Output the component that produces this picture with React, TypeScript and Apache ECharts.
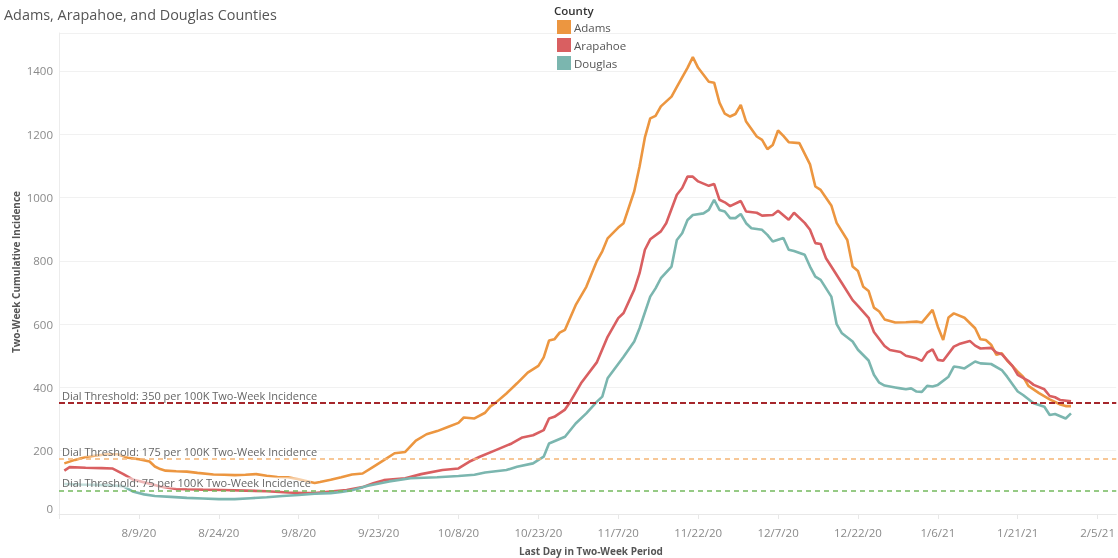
import React, { useEffect, useRef } from "react";
import * as echarts from "echarts";

// x values are days counted from 8/9/20
const DAY0 = Date.UTC(2020, 7, 9);

const counties = ["Adams", "Arapahoe", "Douglas"];
const colors = ["#EC9640", "#D95F61", "#7BB6AF"];

const adams: [number, number][] = [
  [-14, 160], [-12, 171], [-10, 180], [-8, 185], [-6, 189], [-4, 189], [-2, 178], [0, 173], [2, 166], [3, 150], [4, 142], [5, 137],
  [7, 135], [9, 134], [11, 130], [14, 125], [16, 124], [18, 123], [20, 124], [22, 126], [24, 121], [26, 117], [28, 116], [30, 110],
  [32, 102], [33, 98], [34, 101], [36, 108], [38, 116], [40, 125], [42, 128], [44, 149], [46, 170], [48, 192], [50, 196], [52, 232],
  [54, 252], [56, 262], [58, 275], [60, 288], [61, 305], [63, 302], [65, 320], [66, 340], [67, 352], [69, 381], [71, 413], [73, 447],
  [75, 468], [76, 495], [77, 548], [78, 552], [79, 573], [80, 582], [82, 660], [84, 718], [86, 800], [87, 830], [88, 871], [90, 905],
  [91, 919], [93, 1020], [94, 1098], [95, 1190], [96, 1250], [97, 1258], [98, 1288], [100, 1319], [101, 1350], [103, 1410], [104, 1444],
  [105, 1410], [107, 1366], [108, 1363], [109, 1300], [110, 1265], [111, 1256], [112, 1264], [113, 1293], [114, 1240], [116, 1193],
  [117, 1182], [118, 1153], [119, 1166], [120, 1212], [121, 1195], [122, 1175], [124, 1172], [126, 1105], [127, 1035], [128, 1024],
  [130, 975], [131, 920], [133, 866], [134, 782], [135, 768], [136, 718], [137, 705], [138, 652], [139, 640], [140, 615], [142, 605],
  [144, 606], [146, 608], [147, 605], [149, 645], [150, 592], [151, 550], [152, 621], [153, 634], [155, 620], [157, 587], [158, 552],
  [159, 550], [160, 535], [161, 503], [162, 508], [163, 485], [165, 450], [166, 434], [167, 405], [169, 382], [171, 362], [173, 346],
  [174, 341], [175, 341],
];

const arapahoe: [number, number][] = [
  [-14, 137], [-13, 148], [-10, 146], [-7, 145], [-5, 144], [-3, 127], [-1, 108], [2, 96], [4, 87], [7, 79], [9, 78], [12, 77],
  [16, 76], [20, 74], [24, 72], [28, 68], [31, 66], [33, 66], [36, 71], [39, 76], [42, 85], [44, 97], [46, 107], [50, 113], [53, 126],
  [57, 139], [60, 144], [62, 165], [64, 181], [67, 202], [70, 223], [72, 242], [74, 249], [76, 265], [77, 302], [78, 307], [80, 330],
  [81, 355], [83, 413], [86, 480], [88, 560], [90, 619], [91, 635], [93, 709], [94, 761], [95, 835], [96, 868], [98, 893], [99, 919],
  [101, 1009], [102, 1030], [103, 1066], [104, 1066], [105, 1051], [107, 1037], [108, 1043], [109, 993], [110, 985], [111, 973],
  [113, 989], [114, 956], [116, 952], [117, 943], [119, 945], [120, 958], [122, 930], [123, 952], [125, 920], [126, 898], [127, 856],
  [128, 853], [129, 808], [130, 782], [132, 729], [134, 676], [135, 658], [137, 620], [138, 575], [140, 531], [141, 518], [143, 512],
  [144, 500], [146, 492], [147, 484], [148, 510], [149, 520], [150, 487], [151, 484], [153, 529], [154, 537], [156, 547], [157, 532],
  [158, 523], [160, 525], [161, 510], [162, 505], [164, 468], [165, 440], [167, 421], [168, 408], [170, 394], [171, 373], [172, 369],
  [173, 360], [175, 356],
];

const douglas: [number, number][] = [
  [-14, 95], [-11, 93], [-8, 92], [-5, 90], [-3, 88], [-1, 70], [1, 62], [3, 57], [6, 54], [9, 51], [12, 49], [15, 47], [18, 47],
  [21, 50], [24, 53], [27, 57], [30, 60], [33, 64], [36, 66], [38, 70], [40, 75], [43, 89], [47, 103], [51, 113], [56, 116], [60, 120],
  [63, 124], [65, 131], [69, 139], [71, 149], [74, 160], [76, 181], [77, 223], [80, 244], [82, 286], [84, 318], [86, 355], [87, 371],
  [88, 429], [91, 497], [93, 545], [94, 587], [96, 687], [97, 713], [98, 745], [100, 782], [101, 866], [102, 887], [103, 929],
  [104, 945], [106, 950], [107, 961], [108, 993], [109, 961], [110, 956], [111, 935], [112, 935], [113, 948], [114, 919], [115, 903],
  [117, 898], [118, 882], [119, 861], [121, 872], [122, 835], [123, 831], [125, 819], [126, 782], [127, 750], [128, 740], [130, 687],
  [131, 600], [132, 571], [134, 545], [135, 519], [137, 485], [138, 440], [139, 415], [140, 406], [142, 400], [143, 397], [144, 394],
  [145, 397], [146, 387], [147, 386], [148, 405], [149, 403], [150, 408], [152, 434], [153, 466], [154, 464], [155, 460], [157, 482],
  [158, 476], [160, 474], [162, 455], [163, 434], [165, 387], [166, 376], [168, 350], [170, 339], [171, 313], [172, 316], [174, 302],
  [175, 318],
];

const thresholds = [350, 175, 75];
const thresholdLabels = [
  "Dial Threshold: 350 per 100K Two-Week Incidence",
  "Dial Threshold: 175 per 100K Two-Week Incidence",
  "Dial Threshold: 75 per 100K Two-Week Incidence",
];
const thresholdColors = ["#A5262B", "#F5B575", "#74B95E"];

const FONT = "'Open Sans', 'Noto Sans', sans-serif";

function dayLabel(d: number): string {
  if (d < 0) return "";
  const dt = new Date(DAY0 + d * 86400000);
  return `${dt.getUTCMonth() + 1}/${dt.getUTCDate()}/${String(dt.getUTCFullYear()).slice(2)}`;
}

export default function App() {
  const ref = useRef<HTMLDivElement>(null);
  useEffect(() => {
    if (!ref.current) return;
    const chart = echarts.init(ref.current, undefined, { renderer: "svg" });
    const seriesData = [adams, arapahoe, douglas];
    chart.setOption({
      animation: false,
      grid: { left: 59, right: 0, top: 33, bottom: 44, containLabel: false },
      legend: {
        data: counties,
        orient: "vertical",
        left: 557,
        top: 20,
        padding: 0,
        icon: "rect",
        itemWidth: 14,
        itemHeight: 14,
        itemGap: 4,
        textStyle: { color: "#555", fontSize: 11.5, fontFamily: FONT, padding: [0, 0, 0, -2] },
        selectedMode: false,
      },
      xAxis: {
        type: "value",
        min: -15,
        max: 183.5,
        interval: 15,
        axisLine: { show: true, onZero: false, lineStyle: { color: "#e8e8e8" } },
        axisTick: { show: true, length: 5, lineStyle: { color: "#e8e8e8" } },
        splitLine: { show: false },
        axisLabel: {
          formatter: (v: number) => dayLabel(v),
          color: "#8a8a8a",
          fontSize: 11.5,
          fontFamily: FONT,
          margin: 12,
          showMaxLabel: false,
        },
      },
      yAxis: {
        type: "value",
        min: 0,
        max: 1520,
        interval: 200,
        axisLine: { show: true, onZero: false, lineStyle: { color: "#ececec" } },
        axisTick: { show: false },
        splitLine: { show: true, lineStyle: { color: "#f1f1f1", width: 1 } },
        axisLabel: {
          formatter: (v: number) => (v === 0 ? "0\n" : String(v)),
          color: "#8a8a8a",
          fontSize: 11.5,
          fontFamily: FONT,
          margin: 6,
          showMaxLabel: false,
        },
      },
      series: [
        ...counties.map((name, i) => ({
          name,
          type: "line",
          data: seriesData[i],
          showSymbol: false,
          symbol: "none",
          lineStyle: { color: colors[i], width: 2.6 },
          itemStyle: { color: colors[i] },
          z: 2 + i,
        })),
        {
          name: "thresholds",
          type: "line",
          data: [],
          z: 10,
          silent: true,
          markLine: {
            symbol: "none",
            silent: true,
            animation: false,
            label: {
              show: true,
              position: "insideStartTop",
              color: "#666",
              fontSize: 11,
              fontFamily: FONT,
              backgroundColor: "rgba(255,255,255,0.55)",
              distance: [3, 2],
            },
            data: thresholds.map((t, i) => ({
              yAxis: t,
              lineStyle: {
                color: thresholdColors[i],
                type: i === 0 ? [6, 3] : [5, 4],
                width: i === 0 ? 2 : 1.5,
              },
              label: { formatter: thresholdLabels[i] },
            })),
          },
        },
      ],
      graphic: [
        {
          type: "text",
          left: 4,
          top: 7,
          style: {
            text: "Adams, Arapahoe, and Douglas Counties",
            fill: "#555",
            font: `14.4px ${FONT}`,
          },
        },
        {
          type: "text",
          x: 554,
          y: 10,
          style: {
            text: "County",
            fill: "#333",
            font: `600 11.5px ${FONT}`,
            verticalAlign: "middle",
          },
        },
        {
          type: "text",
          x: 16,
          y: 272,
          rotation: Math.PI / 2,
          style: {
            text: "Two-Week Cumulative Incidence",
            fill: "#555",
            font: `bold 10px ${FONT}`,
            align: "center",
            verticalAlign: "middle",
          },
        },
        {
          type: "text",
          x: 591,
          y: 551,
          style: {
            text: "Last Day in Two-Week Period",
            fill: "#555",
            font: `bold 10px ${FONT}`,
            align: "center",
            verticalAlign: "middle",
          },
        },
      ],
    });
    return () => chart.dispose();
  }, []);
  return (
    <div
      ref={ref}
      style={{ position: "fixed", left: 0, top: 0, width: 1118, height: 558 }}
    />
  );
}
